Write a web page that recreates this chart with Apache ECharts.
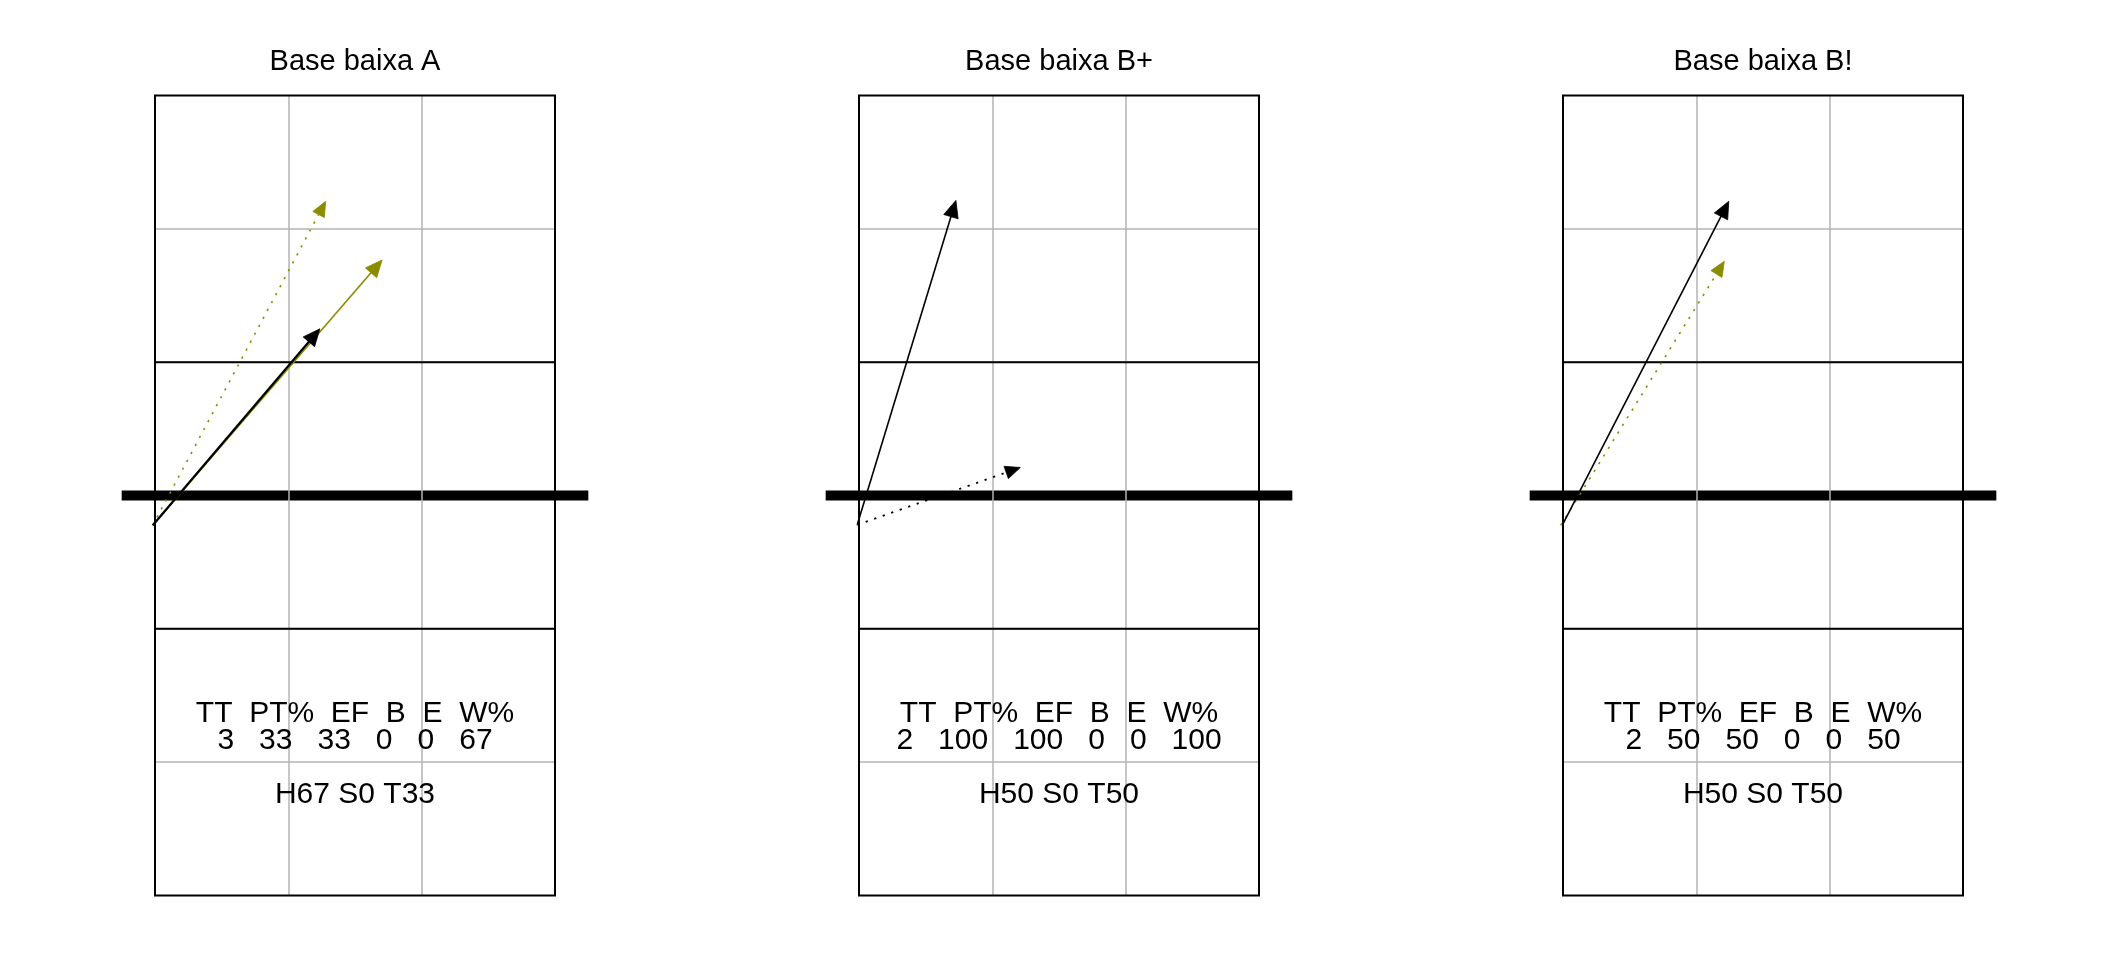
<!DOCTYPE html>
<html>
<head>
<meta charset="utf-8">
<script src="https://cdn.jsdelivr.net/npm/echarts@6/dist/echarts.min.js"></script>
<style>html,body{margin:0;padding:0;background:#fff}#c{width:2112px;height:960px}</style>
</head>
<body>
<div id="c"></div>
<script>
// ---------- data ----------
const titles = ['Base baixa A', 'Base baixa B+', 'Base baixa B!'];
const statLabels = ['TT', 'PT%', 'EF', 'B', 'E', 'W%'];
const statTT = [3, 2, 2];
const statPT = [33, 100, 50];
const statEF = [33, 100, 50];
const statB  = [0, 0, 0];
const statE  = [0, 0, 0];
const statW  = [67, 100, 50];
const statH  = [67, 50, 50];
const statS  = [0, 0, 0];
const statT  = [33, 50, 50];

// arrows per panel: [x start, y start, x end, y end] in court metres (x 0..9, y 0..18, net at 9)
const blackSolid  = [[[-0.05, 8.33, 3.71, 12.75]], [[-0.04, 8.34, 2.18, 15.64]], [[0.0, 8.36, 3.73, 15.62]]];
const oliveSolid  = [[[-0.05, 8.33, 5.11, 14.30]], [], []];
const oliveDotted = [[[-0.05, 8.33, 3.84, 15.62]], [], [[-0.05, 8.33, 3.63, 14.27]]];
const blackDotted = [[], [[-0.04, 8.34, 3.63, 9.63]], []];

// ---------- layout ----------
const panelLeft = [155, 859, 1563];
const panelW = 400, panelTop = 95.5, panelH = 800;
const OLIVE = '#8B8B00';
const GREY = '#b3b3b3';
const FONT = '"Liberation Sans", Arial, sans-serif';

const grids = [], xAxes = [], yAxes = [], series = [], graphics = [];

function arrowRenderer(color, width, dotted) {
  return function (params, api) {
    const p1 = api.coord([api.value(0), api.value(1)]);
    const p2 = api.coord([api.value(2), api.value(3)]);
    const dx = p2[0] - p1[0], dy = p2[1] - p1[1];
    const len = Math.hypot(dx, dy) || 1;
    const ux = dx / len, uy = dy / len;
    const L = dotted ? 15 : 17, H = dotted ? 6.5 : 7.5;
    const bx = p2[0] - ux * L, by = p2[1] - uy * L;
    const left = [bx - uy * H, by + ux * H];
    const right = [bx + uy * H, by - ux * H];
    return {
      type: 'group',
      children: [
        { type: 'line', shape: { x1: p1[0], y1: p1[1], x2: bx + ux * 3, y2: by + uy * 3 },
          style: { stroke: color, lineWidth: width, lineDash: dotted ? [2.2, 6.8] : null, lineCap: 'butt' } },
        { type: 'polygon', shape: { points: [p2, left, right] }, style: { fill: color, stroke: color, lineWidth: 0.8 } }
      ]
    };
  };
}

for (let i = 0; i < 3; i++) {
  grids.push({ left: panelLeft[i], top: panelTop, width: panelW, height: panelH, show: false });
  xAxes.push({
    gridIndex: i, type: 'value', min: 0, max: 9, interval: 3, z: 3,
    axisLine: { show: false }, axisTick: { show: false }, axisLabel: { show: false },
    splitLine: { show: true, showMinLine: false, showMaxLine: false, lineStyle: { color: GREY, width: 1.5 } }
  });
  yAxes.push({
    gridIndex: i, type: 'value', min: 0, max: 18, interval: 3, z: 1,
    axisLine: { show: false }, axisTick: { show: false }, axisLabel: { show: false },
    splitLine: { show: true, showMinLine: false, showMaxLine: false, lineStyle: { color: GREY, width: 1.5 } }
  });

  // net: above horizontal grey lines, below vertical grey lines
  series.push({
    type: 'custom', xAxisIndex: i, yAxisIndex: i, z: 2, clip: false, silent: true,
    data: [[-0.75, 9, 9.75, 9]],
    encode: { x: [0, 2], y: [1, 3] },
    renderItem: function (params, api) {
      const a = api.coord([api.value(0), api.value(1)]);
      const b = api.coord([api.value(2), api.value(3)]);
      return { type: 'line', shape: { x1: a[0], y1: a[1], x2: b[0], y2: b[1] },
               style: { stroke: '#000', lineWidth: 10, lineCap: 'butt' } };
    }
  });
  // court outline and attack lines
  series.push({
    type: 'custom', xAxisIndex: i, yAxisIndex: i, z: 4, clip: false, silent: true,
    data: [[0, 0, 9, 18]],
    encode: { x: [0, 2], y: [1, 3] },
    renderItem: function (params, api) {
      const bl = api.coord([0, 0]), tr = api.coord([9, 18]);
      const a1 = api.coord([0, 6]), a2 = api.coord([9, 6]);
      const b1 = api.coord([0, 12]), b2 = api.coord([9, 12]);
      const st = { stroke: '#000', lineWidth: 2, fill: null };
      return { type: 'group', children: [
        { type: 'rect', shape: { x: bl[0], y: tr[1], width: tr[0] - bl[0], height: bl[1] - tr[1] }, style: st },
        { type: 'line', shape: { x1: a1[0], y1: a1[1], x2: a2[0], y2: a2[1] }, style: st },
        { type: 'line', shape: { x1: b1[0], y1: b1[1], x2: b2[0], y2: b2[1] }, style: st }
      ]};
    }
  });

  const arrowSets = [
    [oliveSolid[i], OLIVE, 1.6, false],
    [oliveDotted[i], OLIVE, 1.6, true],
    [blackDotted[i], '#000', 1.8, true],
    [blackSolid[i], '#000', i === 0 ? 2.2 : 1.6, false]
  ];
  arrowSets.forEach(function (s, k) {
    series.push({
      type: 'custom', xAxisIndex: i, yAxisIndex: i, z: 5 + k, clip: false, silent: true,
      data: s[0], encode: { x: [0, 2], y: [1, 3] },
      renderItem: arrowRenderer(s[1], s[2], s[3])
    });
  });

  const cx = panelLeft[i] + panelW / 2;
  const header = statLabels.join('  ');
  const values = [statTT[i], statPT[i], statEF[i], statB[i], statE[i], statW[i]].join('   ');
  const hst = 'H' + statH[i] + ' S' + statS[i] + ' T' + statT[i];
  const mk = function (txt, y, size) {
    return { type: 'text', x: cx, y: y, z: 10, silent: true,
             style: { text: txt, fontSize: size, fontFamily: FONT, fill: '#000', align: 'center', verticalAlign: 'middle' } };
  };
  graphics.push(mk(titles[i], 61.5, 29));
  graphics.push(mk(header, 714, 30));
  graphics.push(mk(values, 740.5, 30));
  graphics.push(mk(hst, 795, 30));
}

const chart = echarts.init(document.getElementById('c'), null, { renderer: 'canvas' });
chart.setOption({
  animation: false,
  backgroundColor: '#ffffff',
  grid: grids, xAxis: xAxes, yAxis: yAxes,
  series: series,
  graphic: graphics
});
</script>
</body>
</html>
